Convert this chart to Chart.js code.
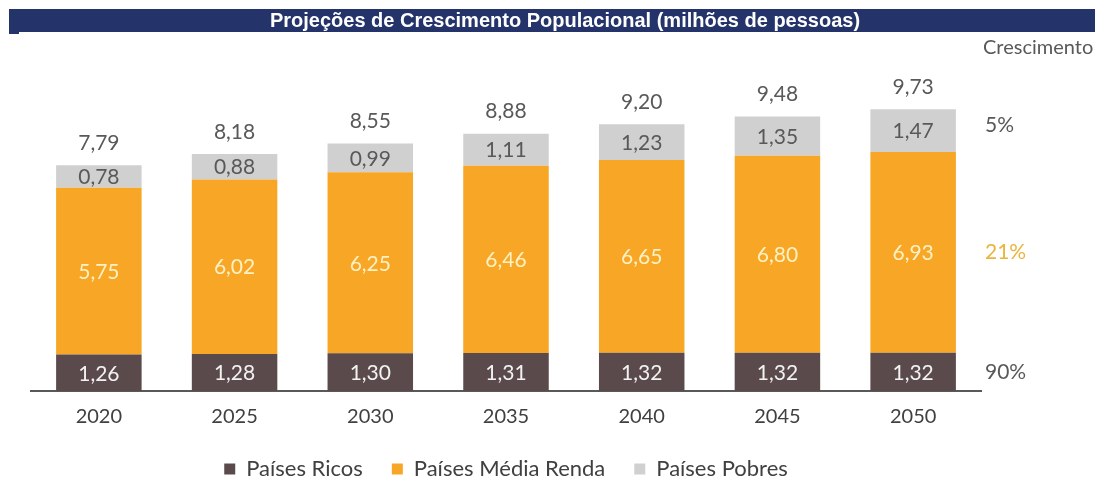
<!DOCTYPE html>
<html>
<head>
<meta charset="utf-8">
<script src="https://cdn.jsdelivr.net/npm/chart.js@4"></script>
<style>
  html, body { margin: 0; padding: 0; background: #fff; overflow: hidden; }
  #wrap { position: relative; width: 1107px; height: 478px; }
</style>
</head>
<body>
<div id="wrap"><canvas id="pop_chart" width="1107" height="478"></canvas></div>
<script>
const years = ['2020', '2025', '2030', '2035', '2040', '2045', '2050'];
const ricos = [1.26, 1.28, 1.30, 1.31, 1.32, 1.32, 1.32];
const mediaRenda = [5.75, 6.02, 6.25, 6.46, 6.65, 6.80, 6.93];
const pobres = [0.78, 0.88, 0.99, 1.11, 1.23, 1.35, 1.47];
const totais = [7.79, 8.18, 8.55, 8.88, 9.20, 9.48, 9.73];
const crescimento = ['90%', '21%', '5%'];

const titulo = 'Projeções de Crescimento Populacional (milhões de pessoas)';
const fmt = (v) => v.toFixed(2).replace('.', ',');

const labelColors = ['#f2f2f2', '#fff1c4', '#595959'];
const growthColors = ['#595959', '#e9b53e', '#595959'];

const decorPlugin = {
  id: 'decor',
  afterDraw: (chart) => {
    const ctx = chart.ctx;
    ctx.save();
    // faixa do título
    ctx.fillStyle = '#243369';
    ctx.fillRect(9, 9, 1086, 23);
    ctx.fillRect(9, 32, 10, 2);
    ctx.fillStyle = '#ffffff';
    ctx.font = 'bold 20px "Liberation Sans", Arial, sans-serif';
    ctx.textAlign = 'center';
    ctx.textBaseline = 'middle';
    ctx.fillText(titulo, 565, 21);

    // valores dentro das barras
    ctx.font = '21px Lato, sans-serif';
    chart.data.datasets.forEach((ds, i) => {
      const meta = chart.getDatasetMeta(i);
      ctx.fillStyle = labelColors[i];
      meta.data.forEach((bar, j) => {
        ctx.fillText(fmt(ds.data[j]), bar.x, (bar.y + bar.base) / 2 + 1);
      });
    });

    // totais
    const top = chart.getDatasetMeta(2);
    ctx.fillStyle = '#595959';
    top.data.forEach((bar, j) => {
      ctx.fillText(fmt(totais[j]), bar.x, bar.y - 22);
    });

    // coluna de crescimento
    ctx.textAlign = 'left';
    ctx.font = '20px Lato, sans-serif';
    ctx.fillStyle = '#595959';
    ctx.fillText('Crescimento', 983, 48);
    ctx.font = '21px Lato, sans-serif';
    chart.data.datasets.forEach((ds, i) => {
      const meta = chart.getDatasetMeta(i);
      const last = meta.data[meta.data.length - 1];
      ctx.fillStyle = growthColors[i];
      ctx.fillText(crescimento[i], 985, (last.y + last.base) / 2 - (i === 2 ? 5 : 0));
    });
    ctx.restore();
  }
};

new Chart(document.getElementById('pop_chart'), {
  type: 'bar',
  data: {
    labels: years,
    datasets: [
      { label: 'Países Ricos', data: ricos, backgroundColor: '#5b4a4b' },
      { label: 'Países Média Renda', data: mediaRenda, backgroundColor: '#f7a626' },
      { label: 'Países Pobres', data: pobres, backgroundColor: '#d0d0d0' }
    ]
  },
  options: {
    responsive: false,
    animation: false,
    layout: { padding: { top: 89, left: 31, right: 126, bottom: -12 } },
    datasets: { bar: { barPercentage: 1, categoryPercentage: 0.63 } },
    scales: {
      x: {
        stacked: true,
        grid: { display: false, drawTicks: false },
        border: { display: true, color: '#595959', width: 2 },
        ticks: { color: '#404040', font: { family: 'Lato', size: 20 }, padding: 14 },
        afterFit: (scale) => { scale.height = 38; }
      },
      y: {
        stacked: true,
        display: false,
        min: 0,
        max: 10.42
      }
    },
    plugins: {
      legend: {
        position: 'bottom',
        fullSize: false,
        labels: {
          color: '#404040',
          font: { family: 'Lato', size: 22 },
          boxWidth: 11,
          boxHeight: 11,
          padding: 29
        }
      },
      tooltip: { enabled: false }
    }
  },
  plugins: [decorPlugin]
});
</script>
</body>
</html>
